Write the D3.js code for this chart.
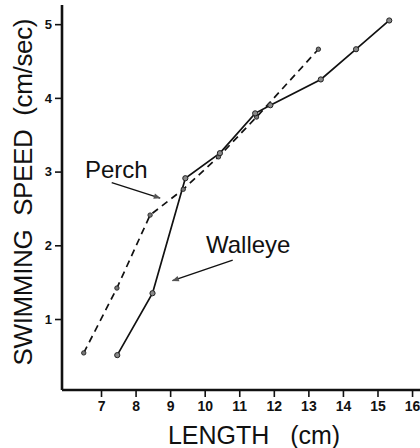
<!DOCTYPE html>
<html>
<head>
<meta charset="utf-8">
<script src="https://cdn.jsdelivr.net/npm/d3@7"></script>
<style>
  html, body { margin: 0; padding: 0; background: #fff; }
  svg { display: block; }
  text { font-family: "Liberation Sans", Arial, Helvetica, sans-serif; fill: #111; }
  .title { white-space: pre; }
</style>
</head>
<body>
<svg id="chart" width="420" height="448"></svg>
<script>
// ---- data ----
const perchLength   = [6.5, 7.46, 8.42, 9.38, 10.4, 11.5, 13.29];
const perchSpeed    = [0.54, 1.42, 2.41, 2.76, 3.2, 3.74, 4.66];
const walleyeLength = [7.47, 8.49, 9.44, 10.44, 11.46, 11.9, 13.36, 14.38, 15.34];
const walleyeSpeed  = [0.51, 1.35, 2.91, 3.25, 3.79, 3.9, 4.25, 4.66, 5.05];
const xTicks = [7, 8, 9, 10, 11, 12, 13, 14, 15, 16];
const yTicks = [1, 2, 3, 4, 5];
const xTitle = "LENGTH   (cm)";
const yTitle = "SWIMMING  SPEED  (cm/sec)";
const seriesLabels = ["Perch", "Walleye"];

const svg = d3.select("#chart");

const x = d3.scaleLinear().domain([5.871, 16.23]).range([62, 420]);
const y = d3.scaleLinear().domain([0.037, 5.26]).range([390, 5]);

// axes
const xAxis = d3.axisBottom(x).tickValues(xTicks).tickSize(7).tickPadding(4).tickFormat(d3.format("d"));
const yAxis = d3.axisLeft(y).tickValues(yTicks).tickSize(7).tickPadding(3).tickFormat(d3.format("d"));

const gx = svg.append("g").attr("transform", "translate(0,390)").call(xAxis);
const gy = svg.append("g").attr("transform", "translate(62,0)").call(yAxis);

[gx, gy].forEach(g => {
  g.select(".domain").attr("stroke", "#111").attr("stroke-width", 2.6);
  g.selectAll(".tick line").attr("stroke", "#111").attr("stroke-width", 1.6);
  g.selectAll(".tick text").style("font-size", "13px").style("font-weight", "bold")
    .style("font-family", "'Liberation Sans', Arial, sans-serif").attr("fill", "#111");
});
gx.select(".domain").attr("d", "M62,0H420");
gy.select(".domain").attr("d", "M0,5V390");
gx.selectAll(".tick text").style("font-size", "14px");

// axis titles
svg.append("text").attr("class", "title")
  .attr("x", 254).attr("y", 444)
  .attr("text-anchor", "middle")
  .style("font-size", "25px")
  .text(xTitle);

svg.append("text").attr("class", "title")
  .attr("transform", "translate(32,192) rotate(-90)")
  .attr("text-anchor", "middle")
  .attr("textLength", 347)
  .attr("lengthAdjust", "spacing")
  .style("font-size", "26px")
  .text(yTitle);

// lines
const line = d3.line().x(d => x(d[0])).y(d => y(d[1]));
const perch = perchLength.map((v, i) => [v, perchSpeed[i]]);
const walleye = walleyeLength.map((v, i) => [v, walleyeSpeed[i]]);

svg.append("path").datum(perch).attr("d", line)
  .attr("fill", "none").attr("stroke", "#111").attr("stroke-width", 1.7)
  .attr("stroke-dasharray", "7,5");
svg.append("path").datum(walleye).attr("d", line)
  .attr("fill", "none").attr("stroke", "#111").attr("stroke-width", 1.7);

// markers
svg.append("g").selectAll("circle").data(perch).join("circle")
  .attr("cx", d => x(d[0])).attr("cy", d => y(d[1])).attr("r", 2.2)
  .attr("fill", "#777").attr("stroke", "#222").attr("stroke-width", 0.9);
svg.append("g").selectAll("circle").data(walleye).join("circle")
  .attr("cx", d => x(d[0])).attr("cy", d => y(d[1])).attr("r", 2.6)
  .attr("fill", "#888").attr("stroke", "#222").attr("stroke-width", 1);

// labels with pointer arrows
svg.append("text").attr("x", 85).attr("y", 178).style("font-size", "24px").text(seriesLabels[0]);
svg.append("text").attr("x", 206).attr("y", 253).style("font-size", "24px").text(seriesLabels[1]);

const defs = svg.append("defs");
defs.append("marker").attr("id", "ah").attr("viewBox", "0 0 10 10")
  .attr("refX", 9).attr("refY", 5).attr("markerWidth", 6).attr("markerHeight", 5)
  .attr("orient", "auto")
  .append("path").attr("d", "M0,1L10,5L0,9Z").attr("fill", "#555");

// pointer positions expressed in data units
const perchPointer = [[7.31, 2.85], [8.71, 2.64]];
const walleyePointer = [[10.81, 1.8], [9.07, 1.52]];
[perchPointer, walleyePointer].forEach(p => {
  svg.append("line")
    .attr("x1", x(p[0][0])).attr("y1", y(p[0][1]))
    .attr("x2", x(p[1][0])).attr("y2", y(p[1][1]))
    .attr("stroke", "#111").attr("stroke-width", 1.4)
    .attr("marker-end", "url(#ah)");
});
</script>
</body>
</html>
